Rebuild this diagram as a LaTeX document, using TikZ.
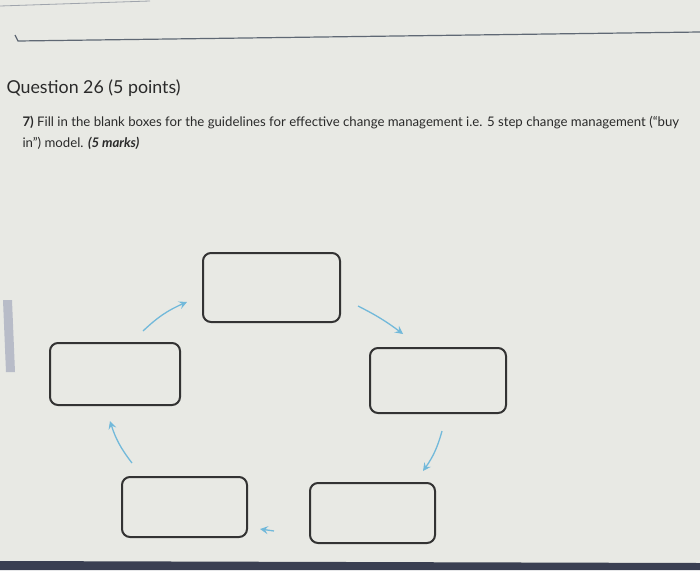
\documentclass[tikz,border=0pt]{standalone}
\usepackage{fontspec}
\setmainfont{Lato}
\usetikzlibrary{arrows.meta}

\definecolor{screen}{HTML}{E8E9E4}
\definecolor{rule}{HTML}{5F6874}
\definecolor{boxline}{HTML}{333333}
\definecolor{arrowblue}{HTML}{72B9DA}
\definecolor{inktext}{HTML}{2A2A2A}
\definecolor{sidebar}{HTML}{B8BCC8}
\definecolor{bezel}{HTML}{3A3F52}

\tikzset{
  blankbox/.style={draw=boxline, line width=2pt, rounded corners=8pt,
    minimum width=#1, inner sep=0pt},
  flow/.style={-{Stealth[length=8pt, width=8pt, inset=3pt]}, draw=arrowblue, line width=1.3pt},
}

\begin{document}
\begin{tikzpicture}[x=1pt, y=-1pt]
  \fill[screen] (0,0) rectangle (700,570);
  \useasboundingbox (0,0) rectangle (700,570);
  \draw[rule!60, line width=0.8pt] (0,6) -- (150,1);
  \draw[rule, line width=1.2pt] (15,35) -- (18,41) -- (700,32);
  \fill[sidebar] (3,300) -- (12,300) -- (15,372) -- (6,372) -- cycle;
  \fill[bezel] (0,561) -- (700,563) -- (700,570) -- (0,570) -- cycle;

  \node[anchor=west, inktext, font=\fontsize{17.8}{20}\selectfont] (title) at (3,88)
    {Question 26 (5 points)};
  \node[anchor=west, inktext, font=\fontsize{13.2}{15}\selectfont] (line1) at (19,123)
    {\textbf{7)} Fill in the blank boxes for the guidelines for effective change management i.e. 5 step change management (“buy};
  \node[anchor=west, inktext, font=\fontsize{13.2}{15}\selectfont] (line2) at (19,143)
    {in”) model. \textbf{\textit{(5 marks)}}};

  \node[blankbox=137pt, minimum height=69pt] (top) at (271.5,287.5) {};
  \node[blankbox=130pt, minimum height=62pt] (left) at (115,374) {};
  \node[blankbox=136pt, minimum height=65pt] (right) at (438,380.5) {};
  \node[blankbox=125pt, minimum height=60pt] (botleft) at (184.5,507) {};
  \node[blankbox=125pt, minimum height=60pt] (botright) at (372.5,513) {};

  \coordinate (a1) at (143,331);
  \coordinate (b1) at (187,302);
  \coordinate (a2) at (358,306);
  \coordinate (b2) at (403,334);
  \coordinate (a3) at (442,431);
  \coordinate (b3) at (423,471);
  \coordinate (a4) at (274,531);
  \coordinate (b4) at (260,529);
  \coordinate (a5) at (132,463);
  \coordinate (b5) at (110,421);

  \draw[flow] (a1) to[bend left=10] (b1);
  \draw[flow] (a2) to[bend left=5] (b2);
  \draw[flow] (a3) to[bend left=10] (b3);
  \draw[flow] (a4) -- (b4);
  \draw[flow] (a5) to[bend left=10] (b5);
\end{tikzpicture}
\end{document}
